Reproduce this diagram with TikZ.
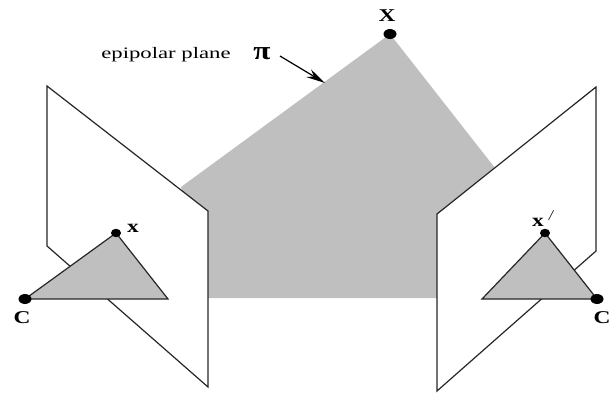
\documentclass[tikz,border=0pt]{standalone}
\usepackage{fontspec}
\setmainfont{Liberation Serif}
\usetikzlibrary{arrows.meta,shapes.geometric}
\definecolor{planegray}{gray}{0.75}
\tikzset{
  dot/.style={fill=black,ellipse,inner sep=0pt,minimum width=#1,minimum height=10pt},
  smalldot/.style={fill=black,ellipse,inner sep=0pt,minimum width=#1,minimum height=8.5pt},
  lbl/.style={inner sep=0pt,transform shape,xscale=1.3,font=\bfseries\fontsize{18}{18}\selectfont},
  edge/.style={draw=black!85,line width=1.2pt,line join=miter},
}
\begin{document}
\begin{tikzpicture}[x=1pt,y=-1pt]
\useasboundingbox (0,0) rectangle (613,394);
% epipolar plane
\coordinate (top) at (390,34);
\coordinate (pl) at (181,187);
\coordinate (pr) at (495,168);
\coordinate (pbl) at (208,298);
\coordinate (pbr) at (437,298);
\fill[planegray] (pl) -- (top) -- (pr) -- (pbr) -- (pbl) -- cycle;
% image planes
\coordinate (la) at (47,86);
\coordinate (lb) at (208,211);
\coordinate (lc) at (208,387);
\coordinate (ld) at (47,246);
\coordinate (ra) at (596,87);
\coordinate (rb) at (437,214);
\coordinate (rc) at (437,391);
\coordinate (rd) at (596,251);
\path[edge,fill=white] (la) -- (lb) -- (lc) -- (ld) -- cycle;
\path[edge,fill=white] (ra) -- (rb) -- (rc) -- (rd) -- cycle;
% triangles
\coordinate (camL) at (25,299);
\coordinate (imgL) at (116,233);
\coordinate (lt) at (168,299);
\coordinate (camR) at (597,299);
\coordinate (imgR) at (545,233);
\coordinate (rt) at (482,299);
\path[edge,fill=planegray] (camL) -- (imgL) -- (lt) -- cycle;
\path[edge,fill=planegray] (camR) -- (imgR) -- (rt) -- cycle;
% points
\node[dot=13pt] (X) at (top) {};
\node[dot=13pt] (C) at (camL) {};
\node[smalldot=10pt] (x) at (imgL) {};
\node[dot=13pt] (Cr) at (camR) {};
\node[smalldot=10pt] (xr) at (imgR) {};
% labels
\node[lbl] (lX) at (387,16) {X};
\node[lbl] (lC) at (22,318) {C};
\node[lbl] (lx) at (133,228) {x};
\node[lbl] (lCr) at (602,318) {C};
\node[lbl] (lxr) at (538,222) {x};
\node[inner sep=0pt,font=\itshape\fontsize{15}{15}\selectfont] (prime) at (551,216) {/};
\node[inner sep=0pt,transform shape,xscale=1.42,font=\fontsize{16}{16}\selectfont] (ep) at (166,55) {epipolar plane};
\node[inner sep=0pt,transform shape,xscale=1.2,font=\bfseries\fontsize{26}{26}\selectfont] (pi) at (262,54) {π};
% arrow
\coordinate (as) at (280,56);
\coordinate (ae) at (325,83);
\draw[-{Stealth[length=19pt,width=9pt]},line width=1.2pt] (as) -- (ae);
\end{tikzpicture}
\end{document}
